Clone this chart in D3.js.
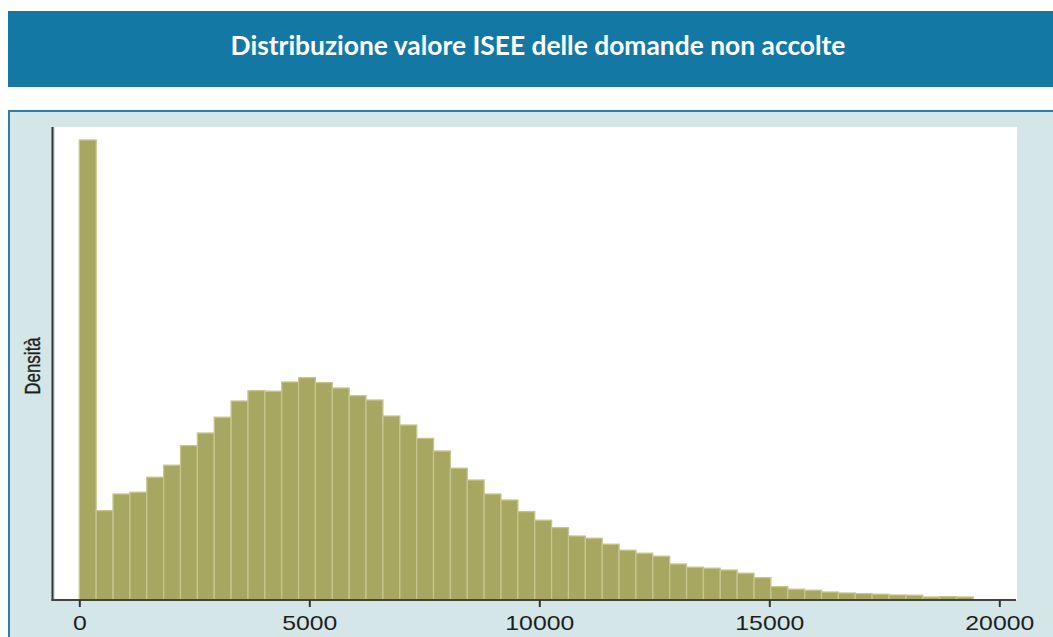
<!DOCTYPE html>
<html>
<head>
<meta charset="utf-8">
<script src="https://cdn.jsdelivr.net/npm/d3@7"></script>
<style>
  html, body { margin: 0; padding: 0; background: #fff; }
  svg { display: block; }
</style>
</head>
<body>
<svg id="chart" width="1053" height="637"></svg>
<script>
// Histogram of ISEE values (density, in units of 1e-5 per euro)
const titleText = 'Distribuzione valore ISEE delle domande non accolte'
const yLabel = 'Densità'
const binStart = 0
const binWidth = 366.7
const densities = [
  23.0, 4.47, 5.30, 5.39, 6.14, 6.74, 7.72, 8.35, 9.14, 9.95,
  10.47, 10.44, 10.90, 11.12, 10.87, 10.60, 10.22, 10.00, 9.20, 8.75,
  8.08, 7.45, 6.59, 6.00, 5.30, 5.00, 4.42, 3.99, 3.62, 3.20,
  3.09, 2.79, 2.49, 2.34, 2.19, 1.80, 1.64, 1.59, 1.50, 1.34,
  1.12, 0.67, 0.54, 0.49, 0.40, 0.35, 0.32, 0.29, 0.25, 0.24,
  0.15, 0.17, 0.15
]
const xTicks = [0, 5000, 10000, 15000, 20000]

const bins = densities.map((d, i) => ({
  x0: binStart + i * binWidth,
  x1: binStart + (i + 1) * binWidth,
  value: d
}))

const svg = d3.select('#chart')

// Title banner
svg.append('rect')
  .attr('x', 8).attr('y', 11)
  .attr('width', 1045).attr('height', 76)
  .attr('fill', '#1379a4')

const title = svg.append('text')
  .attr('x', 538).attr('y', 48)
  .attr('text-anchor', 'middle')
  .attr('dominant-baseline', 'middle')
  .style('font-family', 'Lato, "Open Sans", sans-serif')
  .style('font-weight', 700)
  .style('font-size', '22px')
  .style('fill', '#fff')
  .text(titleText)
const tw = title.node().getComputedTextLength()
title.style('font-size', (22 * 615 / tw).toFixed(2) + 'px')

// Graph panel
svg.append('rect')
  .attr('x', 9).attr('y', 111)
  .attr('width', 1044).attr('height', 526)
  .attr('fill', '#d4e6e8')
svg.append('path')
  .attr('d', 'M9,637 V111 H1053')
  .attr('fill', 'none')
  .attr('stroke', '#2a80aa')
  .attr('stroke-width', 2)

// Plot region
const plot = { left: 55, right: 1017, top: 127, bottom: 600 }
svg.append('rect')
  .attr('x', plot.left).attr('y', plot.top)
  .attr('width', plot.right - plot.left)
  .attr('height', plot.bottom - plot.top)
  .attr('fill', '#fff')

const x = d3.scaleLinear().domain([0, 20000]).range([79.3, 999.3])
const y = d3.scaleLinear().domain([0, 23.65]).range([600, 127])

// Bars
svg.append('g').attr('class', 'bars')
  .selectAll('rect')
  .data(bins)
  .join('rect')
  .attr('x', d => x(d.x0))
  .attr('width', d => x(d.x1) - x(d.x0))
  .attr('y', d => y(d.value))
  .attr('height', d => y(0) - y(d.value))
  .attr('fill', '#a7a762')
  .attr('stroke', '#c6c68c')
  .attr('stroke-width', 1.3)

// Axis lines
svg.append('line')
  .attr('x1', 52.5).attr('x2', 52.5)
  .attr('y1', 127).attr('y2', 601)
  .attr('stroke', '#333').attr('stroke-width', 2)
svg.append('line')
  .attr('x1', 51.5).attr('x2', 1016)
  .attr('y1', 600).attr('y2', 600)
  .attr('stroke', '#444').attr('stroke-width', 2)

// X axis ticks + labels
const xAxis = svg.append('g')
  .attr('transform', 'translate(0,600)')
  .call(d3.axisBottom(x).tickValues(xTicks).tickFormat(d3.format('d')).tickSize(7).tickSizeOuter(0))
xAxis.select('.domain').remove()
xAxis.selectAll('.tick line').attr('stroke', '#333').attr('stroke-width', 2)
xAxis.selectAll('.tick text')
  .attr('y', 30).attr('dy', 0)
  .attr('transform', 'scale(1.24,1)')
  .style('font-family', '"Liberation Sans", Arial, sans-serif')
  .style('font-size', '20px')
  .style('fill', '#1e1e1e')

// Y axis title
svg.append('text')
  .attr('transform', 'translate(40,366) rotate(-90) scale(1,1.3)')
  .attr('text-anchor', 'middle')
  .style('font-family', '"Liberation Sans", Arial, sans-serif')
  .style('font-size', '17px')
  .style('fill', '#1e1e1e')
  .style('stroke', '#1e1e1e')
  .style('stroke-width', 0.3)
  .text(yLabel)
</script>
</body>
</html>
